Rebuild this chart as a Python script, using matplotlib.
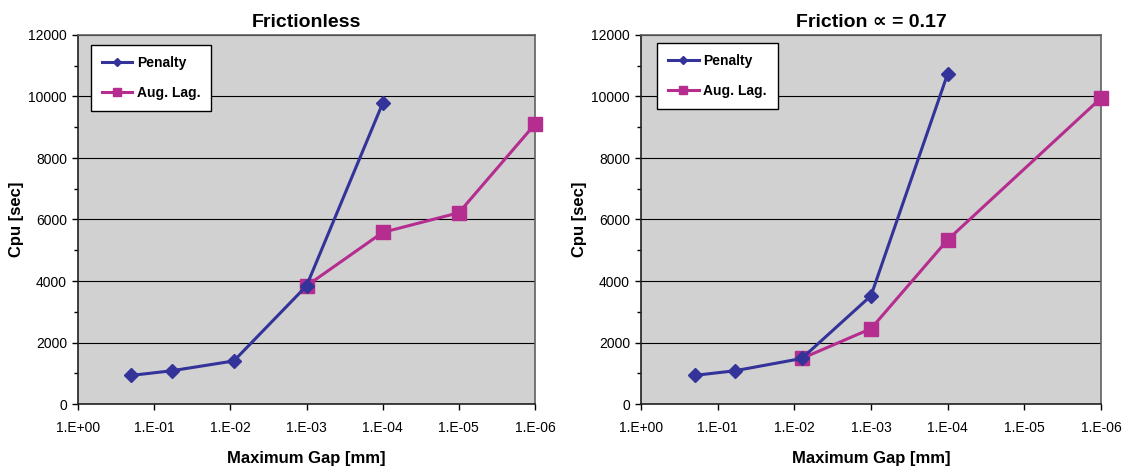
import matplotlib
matplotlib.use("Agg")
import matplotlib.pyplot as plt
from matplotlib.ticker import FixedLocator, MultipleLocator

plt.rcParams["font.family"] = ["Liberation Sans", "DejaVu Sans"]

# x axis: maximum gap, log scale running from 1 down to 1e-6
gap_ticks = [1e0, 1e-1, 1e-2, 1e-3, 1e-4, 1e-5, 1e-6]
gap_tick_labels = ["1.E+00", "1.E-01", "1.E-02", "1.E-03", "1.E-04", "1.E-05", "1.E-06"]

# frictionless panel
fl_pen_gap = [0.2, 0.059, 0.009, 1e-3, 1e-4]
fl_pen_cpu = [930, 1080, 1400, 3840, 9780]
fl_aug_gap = [1e-3, 1e-4, 1e-5, 1e-6]
fl_aug_cpu = [3840, 5580, 6220, 9100]

# friction panel
fr_pen_gap = [0.2, 0.06, 0.008, 1e-3, 1e-4]
fr_pen_cpu = [930, 1080, 1480, 3520, 10740]
fr_aug_gap = [0.008, 1e-3, 1e-4, 1e-6]
fr_aug_cpu = [1480, 2450, 5340, 9950]

PEN_COLOR = "#333399"
AUG_COLOR = "#B42D8F"
BG_COLOR = "#D1D1D1"


def draw_panel(ax, title, pen_gap, pen_cpu, aug_gap, aug_cpu, legend_anchor):
    ax.set_facecolor(BG_COLOR)
    ax.plot(pen_gap, pen_cpu, color=PEN_COLOR, lw=2.2, marker="D", ms=7.3,
            label="Penalty", clip_on=False, zorder=4)
    ax.plot(aug_gap, aug_cpu, color=AUG_COLOR, lw=2.2, marker="s", ms=9.5,
            label="Aug. Lag.", clip_on=False, zorder=3)

    ax.set_xscale("log")
    ax.set_xlim(1e0, 1e-6)
    ax.xaxis.set_major_locator(FixedLocator(gap_ticks))
    ax.xaxis.set_minor_locator(FixedLocator([]))
    ax.set_xticklabels(gap_tick_labels)
    ax.set_ylim(0, 12000)
    ax.yaxis.set_major_locator(MultipleLocator(2000))
    ax.yaxis.set_minor_locator(MultipleLocator(1000))
    ax.grid(axis="y", which="major", color="black", lw=0.8)
    ax.set_axisbelow(True)

    ax.tick_params(axis="x", which="major", length=4, width=1, pad=8, labelsize=10)
    ax.tick_params(axis="y", which="major", length=4, width=1, pad=4, labelsize=10)
    ax.tick_params(axis="y", which="minor", length=3, width=1)

    for side in ("left", "bottom"):
        ax.spines[side].set_color("#202020")
        ax.spines[side].set_linewidth(1.2)
    for side in ("top", "right"):
        ax.spines[side].set_color("#606060")
        ax.spines[side].set_linewidth(1.2)

    ax.set_title(title, fontsize=14, fontweight="bold", pad=6)
    ax.set_xlabel("Maximum Gap [mm]", fontsize=12, fontweight="bold")
    ax.set_ylabel("Cpu [sec]", fontsize=12, fontweight="bold")
    ax.xaxis.set_label_coords(0.5, -0.128)
    ax.yaxis.set_label_coords(-0.118, 0.5)

    leg = ax.legend(loc="upper left", bbox_to_anchor=legend_anchor, borderaxespad=0,
                    prop={"weight": "bold", "size": 10}, frameon=True, fancybox=False,
                    edgecolor="black", framealpha=1, handlelength=2.2,
                    handletextpad=0.3, labelspacing=1.15, borderpad=0.8, markerscale=0.6)
    leg.get_frame().set_linewidth(1.0)


fig = plt.figure(figsize=(11.3, 4.69), dpi=100)
ax_left = fig.add_axes([78 / 1130, 65 / 469, 457 / 1130, 369 / 469])
ax_right = fig.add_axes([641 / 1130, 65 / 469, 460 / 1130, 369 / 469])

draw_panel(ax_left, "Frictionless", fl_pen_gap, fl_pen_cpu, fl_aug_gap, fl_aug_cpu,
           (0.028, 0.973))
draw_panel(ax_right, "Friction \u221d = 0.17", fr_pen_gap, fr_pen_cpu, fr_aug_gap, fr_aug_cpu,
           (0.035, 0.978))

fig.savefig("out.png", dpi=100)
